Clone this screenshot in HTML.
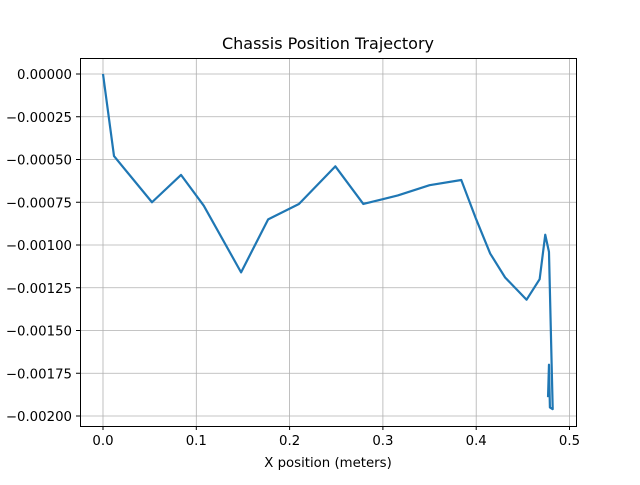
<!DOCTYPE html>
<html><head><meta charset="utf-8"><style>
body{margin:0;background:#fff}
text{font-family:"DejaVu Sans","Liberation Sans",sans-serif;font-size:13.3px;fill:#000}
</style></head><body>
<svg id="chart" width="640" height="480">
<rect width="640" height="480" fill="#fff"/>
<text x="328" y="49" text-anchor="middle" style="font-size:16px">Chassis Position Trajectory</text>
<text x="328" y="467" text-anchor="middle">X position (meters)</text>
<g id="grid"></g><g id="ticks"></g>
<polyline id="line" fill="none" stroke="#1f77b4" stroke-width="2.2" stroke-linejoin="round"/>
<rect x="80.5" y="58.5" width="496" height="368" fill="none" stroke="#000" stroke-width="1"/>
</svg>
<script>
const xs=[0,0.0118,0.0525,0.0836,0.108,0.148,0.177,0.21,0.249,0.279,0.316,0.350,0.384,0.4,0.415,0.431,0.454,0.468,0.474,0.478,0.482,0.479,0.478,0.477];
const ys=[0,-0.00048,-0.00075,-0.00059,-0.00077,-0.00116,-0.00085,-0.00076,-0.00054,-0.00076,-0.00071,-0.00065,-0.00062,-0.00085,-0.00105,-0.00119,-0.00132,-0.0012,-0.00094,-0.00104,-0.00196,-0.00195,-0.0017,-0.00189];
const xTicks=[0,0.1,0.2,0.3,0.4,0.5];
const xTickLabels=["0.0","0.1","0.2","0.3","0.4","0.5"];
const yTicks=[0,-0.00025,-0.0005,-0.00075,-0.001,-0.00125,-0.0015,-0.00175,-0.002];
const yTickLabels=["0.00000","\u22120.00025","\u22120.00050","\u22120.00075","\u22120.00100","\u22120.00125","\u22120.00150","\u22120.00175","\u22120.00200"];
const X=v=>103+v*933, Y=v=>74-v*171000;
const NS="http://www.w3.org/2000/svg";
const grid=document.getElementById('grid'),ticks=document.getElementById('ticks');
function mk(tag,a,p){const e=document.createElementNS(NS,tag);for(const k in a)e.setAttribute(k,a[k]);p.appendChild(e);return e;}
xTicks.forEach((t,i)=>{const x=X(t);
const g=mk('line',{x1:x,x2:x,y1:58,y2:426,stroke:'#b0b0b0','stroke-width':0.8},grid);


const tk=mk('line',{x1:x,x2:x,y1:426,y2:430,stroke:'#000'},ticks);


const l=mk('text',{x:x,y:445,'text-anchor':'middle'},ticks);l.textContent=xTickLabels[i];

});
yTicks.forEach((t,i)=>{const y=Y(t);
const g=mk('line',{x1:80,x2:576,y1:y,y2:y,stroke:'#b0b0b0','stroke-width':0.8},grid);


const tk=mk('line',{x1:76,x2:80,y1:y,y2:y,stroke:'#000'},ticks);


const l=mk('text',{x:72,y:y+5,'text-anchor':'end'},ticks);l.textContent=yTickLabels[i];

});
document.getElementById('line').setAttribute('points',xs.map((v,i)=>X(v)+','+Y(ys[i])).join(' '));
</script>
</body></html>
